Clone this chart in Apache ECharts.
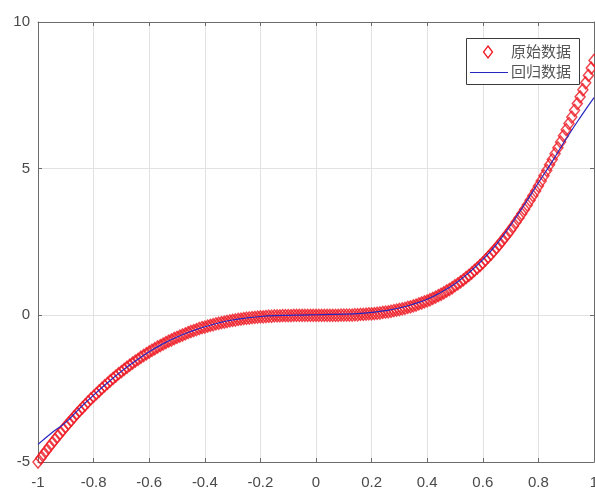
<!DOCTYPE html>
<html>
<head>
<meta charset="utf-8">
<script src="https://cdn.jsdelivr.net/npm/echarts@6/dist/echarts.min.js"></script>
<style>html,body{margin:0;padding:0;background:#fff;overflow:hidden}#c{width:595px;height:489px}</style>
</head>
<body>
<div id="c"></div>
<script>
var seriesNames = ['原始数据', '回归数据'];
var xTicks = [-1, -0.8, -0.6, -0.4, -0.2, 0, 0.2, 0.4, 0.6, 0.8, 1];
var yTicks = [-5, 0, 5, 10];

var rawX = [-1,-0.99,-0.98,-0.97,-0.96,-0.95,-0.94,-0.93,-0.92,-0.91,-0.9,-0.89,-0.88,-0.87,-0.86,-0.85,-0.84,-0.83,-0.82,-0.81,-0.8,-0.79,-0.78,-0.77,-0.76,-0.75,-0.74,-0.73,-0.72,-0.71,-0.7,-0.69,-0.68,-0.67,-0.66,-0.65,-0.64,-0.63,-0.62,-0.61,-0.6,-0.59,-0.58,-0.57,-0.56,-0.55,-0.54,-0.53,-0.52,-0.51,-0.5,-0.49,-0.48,-0.47,-0.46,-0.45,-0.44,-0.43,-0.42,-0.41,-0.4,-0.39,-0.38,-0.37,-0.36,-0.35,-0.34,-0.33,-0.32,-0.31,-0.3,-0.29,-0.28,-0.27,-0.26,-0.25,-0.24,-0.23,-0.22,-0.21,-0.2,-0.19,-0.18,-0.17,-0.16,-0.15,-0.14,-0.13,-0.12,-0.11,-0.1,-0.09,-0.08,-0.07,-0.06,-0.05,-0.04,-0.03,-0.02,-0.01,0,0.01,0.02,0.03,0.04,0.05,0.06,0.07,0.08,0.09,0.1,0.11,0.12,0.13,0.14,0.15,0.16,0.17,0.18,0.19,0.2,0.21,0.22,0.23,0.24,0.25,0.26,0.27,0.28,0.29,0.3,0.31,0.32,0.33,0.34,0.35,0.36,0.37,0.38,0.39,0.4,0.41,0.42,0.43,0.44,0.45,0.46,0.47,0.48,0.49,0.5,0.51,0.52,0.53,0.54,0.55,0.56,0.57,0.58,0.59,0.6,0.61,0.62,0.63,0.64,0.65,0.66,0.67,0.68,0.69,0.7,0.71,0.72,0.73,0.74,0.75,0.76,0.77,0.78,0.79,0.8,0.81,0.82,0.83,0.84,0.85,0.86,0.87,0.88,0.89,0.9,0.91,0.92,0.93,0.94,0.95,0.96,0.97,0.98,0.99,1];
var rawY = [-5.00,-4.87,-4.74,-4.62,-4.49,-4.37,-4.25,-4.13,-4.02,-3.90,-3.79,-3.68,-3.57,-3.46,-3.35,-3.25,-3.15,-3.05,-2.95,-2.85,-2.76,-2.67,-2.58,-2.49,-2.40,-2.32,-2.23,-2.15,-2.07,-1.99,-1.92,-1.84,-1.77,-1.70,-1.63,-1.56,-1.50,-1.43,-1.37,-1.31,-1.25,-1.19,-1.14,-1.08,-1.03,-0.98,-0.93,-0.88,-0.84,-0.79,-0.75,-0.71,-0.67,-0.63,-0.59,-0.55,-0.52,-0.49,-0.45,-0.42,-0.40,-0.37,-0.34,-0.32,-0.29,-0.27,-0.25,-0.23,-0.21,-0.19,-0.17,-0.16,-0.14,-0.13,-0.11,-0.10,-0.09,-0.08,-0.07,-0.06,-0.05,-0.05,-0.04,-0.03,-0.03,-0.02,-0.02,-0.02,-0.01,-0.01,-0.01,-0.01,0,0,0,0,0,0,0,0,0,0,0,0,0,0,0,0,0,0.01,0.01,0.01,0.01,0.01,0.02,0.02,0.03,0.03,0.04,0.05,0.05,0.06,0.07,0.08,0.10,0.11,0.12,0.14,0.16,0.18,0.20,0.22,0.24,0.27,0.29,0.32,0.35,0.39,0.42,0.46,0.49,0.53,0.58,0.62,0.67,0.72,0.77,0.83,0.88,0.94,1.01,1.07,1.14,1.21,1.29,1.36,1.44,1.53,1.61,1.70,1.79,1.89,1.99,2.09,2.20,2.31,2.42,2.54,2.66,2.78,2.91,3.04,3.18,3.32,3.46,3.61,3.76,3.92,4.08,4.24,4.41,4.58,4.76,4.94,5.13,5.31,5.51,5.71,5.91,6.12,6.33,6.54,6.76,6.99,7.22,7.45,7.69,7.93,8.18,8.43,8.69,8.95];

var fitX = [-1,-0.95,-0.9,-0.85,-0.8,-0.75,-0.7,-0.65,-0.6,-0.55,-0.5,-0.45,-0.4,-0.35,-0.3,-0.25,-0.2,-0.15,-0.1,-0.05,0,0.05,0.1,0.15,0.2,0.25,0.3,0.35,0.4,0.45,0.5,0.55,0.6,0.65,0.7,0.75,0.8,0.85,0.9,0.95,1];
var fitY = [-4.40,-4.00,-3.65,-3.17,-2.72,-2.30,-1.91,-1.56,-1.24,-0.97,-0.74,-0.55,-0.39,-0.26,-0.16,-0.09,-0.04,-0.01,0.00,0.01,0.02,0.03,0.04,0.06,0.10,0.16,0.25,0.38,0.55,0.79,1.08,1.45,1.90,2.43,3.07,3.78,4.52,5.25,6.02,6.74,7.42];

function pairs(xs, ys) { return xs.map(function (x, i) { return [x, ys[i]]; }); }

var axisColor = '#6b6b6b';
var redColor = '#ee1822';
var blueColor = '#2626c0';
var labelStyle = { color: '#4a4a4a', fontSize: 15, fontFamily: 'Liberation Sans, Arial, sans-serif' };
var legendFont = { fill: '#555', fontSize: 15, fontFamily: 'Noto Sans CJK SC' };
var chart = echarts.init(document.getElementById('c'), null, { renderer: 'canvas' });
chart.setOption({
  backgroundColor: '#fff',
  animation: false,
  grid: { left: 38, right: 1, top: 22, bottom: 27, outerBoundsMode: 'none', containLabel: false },
  xAxis: [
    { type: 'value', min: xTicks[0], max: xTicks[xTicks.length - 1], interval: 0.2,
      axisLine: { show: true, onZero: false, lineStyle: { color: axisColor, width: 1 } },
      axisTick: { show: true, inside: true, length: 4, lineStyle: { color: axisColor } },
      axisLabel: Object.assign({ margin: 13, hideOverlap: false, showMaxLabel: true, showMinLabel: true }, labelStyle),
      splitLine: { show: true, lineStyle: { color: '#e2e2e2', width: 1 } } },
    { type: 'value', position: 'top', min: xTicks[0], max: xTicks[xTicks.length - 1], interval: 0.2,
      axisLine: { show: true, onZero: false, lineStyle: { color: axisColor, width: 1 } },
      axisTick: { show: true, inside: true, length: 4, lineStyle: { color: axisColor } },
      axisLabel: { show: false }, splitLine: { show: false } }
  ],
  yAxis: [
    { type: 'value', min: yTicks[0], max: yTicks[yTicks.length - 1], interval: 5,
      axisLine: { show: true, onZero: false, lineStyle: { color: axisColor, width: 1 } },
      axisTick: { show: true, inside: true, length: 4, lineStyle: { color: axisColor } },
      axisLabel: Object.assign({ margin: 8, verticalAlign: 'middle', padding: [3, 0, 0, 0] }, labelStyle),
      splitLine: { show: true, lineStyle: { color: '#e2e2e2', width: 1 } } },
    { type: 'value', position: 'right', min: yTicks[0], max: yTicks[yTicks.length - 1], interval: 5,
      axisLine: { show: true, onZero: false, lineStyle: { color: axisColor, width: 1 } },
      axisTick: { show: true, inside: true, length: 4, lineStyle: { color: axisColor } },
      axisLabel: { show: false }, splitLine: { show: false } }
  ],
  graphic: [
    { type: 'rect', left: 466, top: 38, z: 100,
      shape: { width: 113, height: 46 },
      style: { fill: '#fff', stroke: '#3a3a3a', lineWidth: 1 } },
    { type: 'polygon', z: 101,
      shape: { points: [[488, 46], [492.5, 52], [488, 58], [483.5, 52]] },
      style: { fill: '#fff', stroke: redColor, lineWidth: 1.3 } },
    { type: 'line', z: 101,
      shape: { x1: 470, y1: 72.5, x2: 508, y2: 72.5 },
      style: { stroke: blueColor, lineWidth: 1 } },
    { type: 'text', left: 511, top: 44, z: 101,
      style: Object.assign({ text: seriesNames[0] }, legendFont) },
    { type: 'text', left: 511, top: 64, z: 101,
      style: Object.assign({ text: seriesNames[1] }, legendFont) }
  ],
  series: [
    { name: seriesNames[0], type: 'scatter', data: pairs(rawX, rawY), clip: false,
      symbol: 'diamond', symbolSize: [10, 12],
      itemStyle: { color: 'rgba(255,255,255,0)', borderColor: redColor, borderWidth: 1.5 },
      z: 2 },
    { name: seriesNames[1], type: 'line', data: pairs(fitX, fitY), smooth: true, clip: false,
      symbol: 'none', lineStyle: { color: blueColor, width: 1.2 }, itemStyle: { color: blueColor },
      z: 3 }
  ]
});
</script>
</body>
</html>
